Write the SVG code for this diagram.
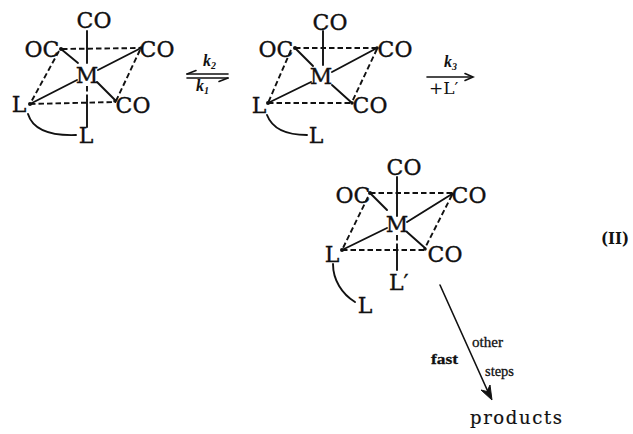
<svg xmlns="http://www.w3.org/2000/svg" width="633" height="434" viewBox="0 0 633 434">
<style>
.t{font-family:"DejaVu Serif","Liberation Serif",serif;font-size:22px;fill:#111;stroke:#111;stroke-width:0.35;text-anchor:middle}
.s{stroke:#111;stroke-width:1.9;fill:none;stroke-linecap:round}
.d{stroke:#111;stroke-width:1.9;fill:none;stroke-dasharray:5.5 3}
.k{font-family:"Liberation Serif","DejaVu Serif",serif;font-size:16px;font-style:italic;font-weight:bold;fill:#111}
.lbl{font-family:"Liberation Serif","DejaVu Serif",serif;font-size:15px;fill:#111;stroke:#111;stroke-width:0.3}
.dot{fill:#111}
</style>
<rect width="633" height="434" fill="#fff"/>

<g id="complex1">
  <line class="d" x1="62" y1="49" x2="141" y2="48"/>
  <line class="d" x1="59" y1="51" x2="30" y2="104"/>
  <line class="d" x1="30" y1="104" x2="116" y2="102"/>
  <line class="d" x1="140" y1="50" x2="116" y2="101"/>
  <line class="s" x1="87" y1="31" x2="87" y2="63"/>
  <line class="s" x1="61" y1="49" x2="78" y2="63"/>
  <line class="s" x1="98" y1="70" x2="141" y2="48"/>
  <line class="s" x1="77" y1="80" x2="30" y2="104"/>
  <line class="s" x1="97" y1="82" x2="115" y2="100"/>
  <line class="d" x1="87" y1="86" x2="87" y2="100"/>
  <line class="s" x1="87" y1="100" x2="87" y2="127"/>
  <path class="s" d="M28,114 C32,127 46,136 76,135"/>
  <circle class="dot" cx="61" cy="49" r="2"/>
  <circle class="dot" cx="30" cy="104" r="2"/>
  <circle class="dot" cx="115" cy="101" r="1.8"/>
  <circle class="dot" cx="141" cy="48" r="1.8"/>
  <text class="t" x="94" y="28">CO</text>
  <text class="t" x="42" y="57">OC</text>
  <text class="t" x="157" y="57">CO</text>
  <text class="t" x="87" y="83">M</text>
  <text class="t" x="19" y="112">L</text>
  <text class="t" x="133" y="113">CO</text>
  <text class="t" x="86" y="143">L</text>
</g>

<g id="complex2">
  <line class="d" x1="295" y1="48" x2="377" y2="48"/>
  <line class="d" x1="291" y1="50" x2="268" y2="103"/>
  <line class="d" x1="268" y1="103" x2="352" y2="103"/>
  <line class="d" x1="377" y1="49" x2="352" y2="102"/>
  <line class="s" x1="323" y1="31" x2="323" y2="65"/>
  <line class="s" x1="295" y1="48" x2="313" y2="66"/>
  <line class="s" x1="332" y1="72" x2="377" y2="48"/>
  <line class="s" x1="311" y1="82" x2="268" y2="103"/>
  <line class="s" x1="332" y1="85" x2="352" y2="103"/>
  <path class="s" d="M267,115 C272,128 285,135 307,135"/>
  <circle class="dot" cx="295" cy="48" r="2"/>
  <circle class="dot" cx="268" cy="103" r="2"/>
  <circle class="dot" cx="352" cy="103" r="1.8"/>
  <circle class="dot" cx="377" cy="48" r="1.8"/>
  <text class="t" x="330" y="30">CO</text>
  <text class="t" x="276" y="57">OC</text>
  <text class="t" x="395" y="57">CO</text>
  <text class="t" x="321" y="84">M</text>
  <text class="t" x="259" y="113">L</text>
  <text class="t" x="370" y="113">CO</text>
  <text class="t" x="316" y="143">L</text>
</g>

<g id="complex3">
  <line class="d" x1="370" y1="193" x2="452" y2="193"/>
  <line class="d" x1="368" y1="197" x2="342" y2="250"/>
  <line class="d" x1="342" y1="250" x2="425" y2="250"/>
  <line class="d" x1="452" y1="195" x2="425" y2="248"/>
  <line class="s" x1="397" y1="177" x2="397" y2="216"/>
  <line class="s" x1="370" y1="193" x2="387" y2="210"/>
  <line class="s" x1="407" y1="222" x2="452" y2="194"/>
  <line class="s" x1="387" y1="228" x2="342" y2="250"/>
  <line class="s" x1="407" y1="232" x2="425" y2="248"/>
  <line class="d" x1="397" y1="235" x2="397" y2="248"/>
  <line class="s" x1="397" y1="248" x2="397" y2="270"/>
  <path class="s" d="M333,264 C333,280 342,294 355,302"/>
  <circle class="dot" cx="370" cy="193" r="2"/>
  <circle class="dot" cx="342" cy="250" r="2"/>
  <circle class="dot" cx="425" cy="249" r="1.8"/>
  <circle class="dot" cx="452" cy="194" r="1.8"/>
  <text class="t" x="404" y="175">CO</text>
  <text class="t" x="353" y="203">OC</text>
  <text class="t" x="469" y="203">CO</text>
  <text class="t" x="397" y="232">M</text>
  <text class="t" x="332" y="262">L</text>
  <text class="t" x="445" y="262">CO</text>
  <text class="t" x="389" y="290" style="text-anchor:start">L′</text>
  <text class="t" x="365" y="313">L</text>
</g>

<g id="products">
  <text class="t" x="470" y="424" style="text-anchor:start;font-size:18px;stroke-width:0.2" textLength="92" lengthAdjust="spacing">products</text>
</g>

<g id="label-II">
  <text x="601" y="244" textLength="28" lengthAdjust="spacingAndGlyphs" style="font-family:'DejaVu Serif','Liberation Serif',serif;font-size:17px;font-weight:bold;fill:#111">(II)</text>
</g>

<g id="connectors">
  <line class="s" x1="187" y1="74" x2="228" y2="74" style="stroke-width:1.6"/>
  <line class="s" x1="187" y1="74" x2="196" y2="70.5" style="stroke-width:1.6"/>
  <line class="s" x1="187" y1="78" x2="228" y2="78" style="stroke-width:1.6"/>
  <line class="s" x1="228" y1="78" x2="219" y2="81.5" style="stroke-width:1.6"/>
  <text class="k" x="203" y="66">k<tspan font-size="10" dy="3">2</tspan></text>
  <text class="k" x="196" y="91">k<tspan font-size="10" dy="3">1</tspan></text>

  <line class="s" x1="427" y1="77" x2="472" y2="77" style="stroke-width:1.6"/>
  <path class="s" d="M465,73.5 L473,77 L465,80.5" style="stroke-width:1.6"/>
  <text class="k" x="444" y="67">k<tspan font-size="10" dy="3">3</tspan></text>
  <text x="429" y="94" style="font-family:'DejaVu Serif','Liberation Serif',serif;font-size:17px;fill:#111">+L′</text>

  <line class="s" x1="440" y1="285" x2="489" y2="394" style="stroke-width:1.6"/>
  <path d="M492,400 L481,390 L487,391.5 L490,385 Z" fill="#111" stroke="#111" stroke-width="1" stroke-linejoin="round"/>
  <text class="lbl" x="472" y="347" textLength="31" lengthAdjust="spacingAndGlyphs">other</text>
  <text class="lbl" x="431" y="364" font-weight="bold" textLength="27" lengthAdjust="spacingAndGlyphs">fast</text>
  <text class="lbl" x="485" y="376" textLength="29" lengthAdjust="spacingAndGlyphs">steps</text>
</g>
</svg>
